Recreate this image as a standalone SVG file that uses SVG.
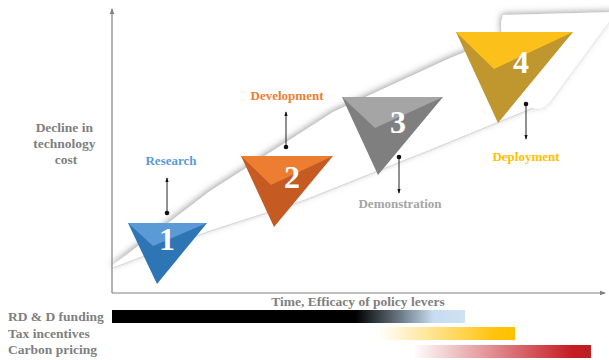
<svg xmlns="http://www.w3.org/2000/svg" width="609" height="360" viewBox="0 0 609 360">
  <style>
    .lbl { font-family: "Liberation Serif", "Times New Roman", serif; font-weight: bold; }
    .axis-title { font-size: 13.5px; fill: #7f7f7f; }
    .stage { font-size: 13px; text-anchor: middle; }
    .num { font-size: 32px; fill: #ffffff; text-anchor: middle; }
    .axis { stroke: #808080; stroke-width: 1.2; fill: none; }
    .lead { stroke: #222; stroke-width: 1; fill: none; }
    .dot { fill: #111; }
  </style>
  <defs>
    <marker id="axHead" viewBox="0 0 6 6" refX="5" refY="3" markerWidth="5" markerHeight="5" orient="auto">
      <path d="M0,0.8 L6,3 L0,5.2 z" fill="#808080"/>
    </marker>
    <marker id="tip" viewBox="0 0 6 6" refX="5" refY="3" markerWidth="5" markerHeight="5" orient="auto">
      <path d="M0,1 L6,3 L0,5 z" fill="#111"/>
    </marker>
    <filter id="soft" x="-10%" y="-20%" width="120%" height="140%">
      <feDropShadow dx="-1" dy="-1.5" stdDeviation="3" flood-color="#6a6a6a" flood-opacity="0.6"/>
    </filter>
    <linearGradient id="gRD" x1="112" y1="0" x2="465" y2="0" gradientUnits="userSpaceOnUse">
      <stop offset="0" stop-color="#000"/>
      <stop offset="0.69" stop-color="#000"/>
      <stop offset="0.82" stop-color="#6f7d89"/>
      <stop offset="0.91" stop-color="#c6dcf0"/>
      <stop offset="1" stop-color="#cfe2f3"/>
    </linearGradient>
    <linearGradient id="gTax" x1="378" y1="0" x2="515" y2="0" gradientUnits="userSpaceOnUse">
      <stop offset="0" stop-color="#ffc000" stop-opacity="0"/>
      <stop offset="0.85" stop-color="#ffc000" stop-opacity="0.95"/>
      <stop offset="1" stop-color="#ffc000"/>
    </linearGradient>
    <linearGradient id="gCarbon" x1="413" y1="0" x2="591" y2="0" gradientUnits="userSpaceOnUse">
      <stop offset="0" stop-color="#c0161e" stop-opacity="0"/>
      <stop offset="0.9" stop-color="#c41c22" stop-opacity="1"/>
      <stop offset="1" stop-color="#be1e24"/>
    </linearGradient>
  </defs>

  <!-- rising white arrow behind the stages -->
  <path d="M113,265 L210,191 L333,112 L450,58 L503,37 Q499,26 503,15 L616,12 L549,103 Q541,111 533,108 L433,149 L300,202 L207,232 L113,268 Z"
        fill="#ffffff" filter="url(#soft)"/>
  <path d="M113,268 L207,232 L300,202 L433,149 L533,108" fill="none" stroke="#d6d6d6" stroke-width="1"/>

  <!-- axes -->
  <g id="axes">
    <line class="axis" x1="112" y1="293" x2="112" y2="9" marker-end="url(#axHead)"/>
    <line class="axis" x1="112" y1="293" x2="605" y2="293" marker-end="url(#axHead)"/>
    <text class="lbl axis-title" text-anchor="middle">
      <tspan x="66" y="132">Decline in</tspan>
      <tspan x="66" y="148">technology</tspan>
      <tspan x="66" y="164">cost</tspan>
    </text>
    <text class="lbl axis-title" x="358" y="306" text-anchor="middle">Time, Efficacy of policy levers</text>
  </g>

  <!-- stage 1 -->
  <g id="stage1">
    <polygon points="128,223 207,223 157,284" fill="#2e75b6"/>
    <polygon points="128,223 207,223 153,246" fill="#5b9bd5"/>
    <text class="lbl num" x="167" y="250">1</text>
  </g>

  <!-- stage 2 -->
  <g id="stage2">
    <polygon points="241,156 333,156 274,227" fill="#c55a22"/>
    <polygon points="241,156 333,156 271,185" fill="#ed7d31"/>
    <text class="lbl num" x="292" y="188">2</text>
  </g>

  <!-- stage 3 -->
  <g id="stage3">
    <polygon points="342,97 443,97 378,175" fill="#7f7f7f"/>
    <polygon points="342,97 443,97 375,128" fill="#a5a5a5"/>
    <text class="lbl num" x="398" y="133">3</text>
  </g>

  <!-- stage 4 -->
  <g id="stage4">
    <polygon points="456,32 573,32 498,123" fill="#c0962f"/>
    <polygon points="456,32 573,32 494,69" fill="#fbc01a"/>
    <text class="lbl num" x="521" y="73">4</text>
  </g>

  <!-- stage labels -->
  <g id="labels">
    <text class="lbl stage" x="171" y="165" fill="#5b9bd5">Research</text>
    <text class="lbl stage" x="287" y="100" fill="#ed7d31">Development</text>
    <text class="lbl stage" x="400" y="208" fill="#a5a5a5">Demonstration</text>
    <text class="lbl stage" x="526" y="161" fill="#ffc000">Deployment</text>
  </g>

  <!-- leader connectors -->
  <g id="connectors">
    <line class="lead" x1="167" y1="213" x2="167" y2="178" marker-end="url(#tip)"/>
    <circle class="dot" cx="167" cy="213" r="2.3"/>
    <line class="lead" x1="286" y1="147" x2="286" y2="112" marker-end="url(#tip)"/>
    <circle class="dot" cx="286" cy="147" r="2.3"/>
    <line class="lead" x1="399" y1="157" x2="399" y2="193" marker-end="url(#tip)"/>
    <circle class="dot" cx="399" cy="157" r="2.3"/>
    <line class="lead" x1="526" y1="104" x2="526" y2="139" marker-end="url(#tip)"/>
    <circle class="dot" cx="526" cy="104" r="2.3"/>
  </g>

  <!-- policy lever bars -->
  <g id="levers">
    <text class="lbl axis-title" x="8" y="321" font-size="14">RD &amp; D funding</text>
    <text class="lbl axis-title" x="8" y="338" font-size="14">Tax incentives</text>
    <text class="lbl axis-title" x="8" y="354" font-size="14">Carbon pricing</text>
    <rect x="112" y="310" width="353" height="13" fill="url(#gRD)"/>
    <rect x="378" y="327" width="137" height="13" fill="url(#gTax)"/>
    <rect x="413" y="345" width="178" height="13" fill="url(#gCarbon)"/>
  </g>
</svg>
